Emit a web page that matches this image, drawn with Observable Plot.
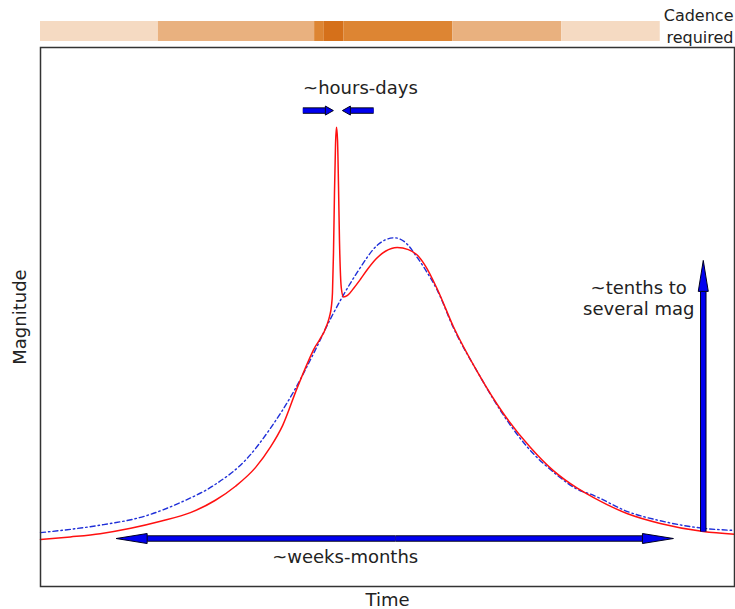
<!DOCTYPE html>
<html><head><meta charset="utf-8">
<script src="https://cdn.jsdelivr.net/npm/d3@7"></script>
<script src="https://cdn.jsdelivr.net/npm/@observablehq/plot@0.6"></script>
<style>
body{margin:0;background:#fff;font-family:"DejaVu Sans",sans-serif}
#chart svg{display:block}
</style>
</head><body><div id="chart"></div>
<script>
// ---- Cadence bar (time units 0..100) ----
const cadenceStart = [0, 17.0, 39.5, 40.9, 43.7, 59.4, 75.1];
const cadenceEnd   = [17.0, 39.5, 40.9, 43.7, 59.4, 75.1, 89.3];
const cadenceLevel = ["low", "medium", "high", "highest", "high", "medium", "low"];
const cadenceColors = {low: "#f5dac2", medium: "#e9b17f", high: "#dd8533", highest: "#d5701a"};
const cadenceLabel = "Cadence\nrequired";

// ---- Light curves (time 0..100, brightness 0..100) ----
const redTime = [0, 4.3, 8.6, 13.0, 17.3, 21.6, 25.2, 28.1, 31.0, 33.1, 34.9, 37.0, 39.3, 41.35, 41.65, 41.93, 42.07, 42.22, 42.36, 42.51, 42.65, 42.8, 42.94, 43.08, 43.23, 43.37, 43.66, 44.24, 45.1, 46.1, 47.1, 48.3, 49.7, 51.4, 53.0, 54.2, 55.5, 57.2, 59.5, 63.1, 66.7, 70.6, 73.9, 77.4, 79.7, 84.6, 89.3, 95.5, 100];
const redMag  = [8.7, 9.2, 9.8, 10.8, 12.1, 13.7, 16.0, 18.6, 22.1, 25.8, 29.9, 36.9, 43.8, 48.8, 50.1, 52.1, 54.5, 62.0, 73.0, 82.0, 85.2, 82.8, 74.4, 64.2, 57.7, 55.1, 53.7, 54.0, 55.3, 57.0, 58.8, 60.7, 62.2, 62.9, 62.5, 61.6, 59.4, 55.1, 48.2, 39.5, 32.1, 25.8, 21.5, 18.2, 16.5, 13.5, 11.7, 10.2, 9.7];

const blueTime = [0, 4.3, 8.2, 15.4, 20.2, 24.9, 29.8, 33.1, 36.5, 39.3, 41.8, 43.7, 45.7, 48.6, 51.0, 52.6, 54.3, 55.5, 57.2, 59.5, 63.1, 66.3, 70.2, 74.5, 77.1, 79.7, 84.6, 89.3, 95.5, 100];
const blueMag  = [10.0, 10.6, 11.3, 13.2, 15.6, 18.7, 23.8, 29.3, 36.2, 43.1, 49.7, 54.2, 58.4, 63.4, 64.7, 63.8, 61.0, 58.7, 54.9, 48.0, 39.5, 32.6, 25.8, 20.6, 18.2, 16.9, 13.9, 12.2, 10.8, 10.4];

// ---- Annotations ----
const noteText = ["~hours-days", "~weeks-months", "~tenths to\nseveral mag"];
const noteTime = [46.1, 43.9, 86.2];
const noteMag  = [92.6, 5.6, 53.5];

// arrows: from (x1,y1) to tip (x2,y2)
const arrowX1 = [37.8, 48.0, 51.15, 51.15, 95.5];
const arrowY1 = [88.3, 88.3, 8.9, 8.9, 10.2];
const arrowX2 = [42.2, 43.5, 10.9, 91.2, 95.5];
const arrowY2 = [88.3, 88.3, 8.9, 8.9, 60.5];
const arrowKind = ["small", "small", "big", "big", "big"];

// ---- layout / style ----
const W = 735, mL = 40, mR = 1;
const mainH = 563, mT = 1, mB = 23;
const pxPerX = (W - mL - mR) / 100;
const pxPerY = (mainH - mT - mB) / 100;
const headStyle = {small: {len: 8, half: 4.5, shaft: 4.5}, big: {len: 31, half: 5, shaft: 4.5}};
const BLUE = "#0000f0", EDGE = "#000020", FONT = "DejaVu Sans";

// ---- Cadence plot ----
const idx = cadenceStart.map((_, i) => i);
const cadencePlot = Plot.plot({
  width: W, height: 46, marginLeft: mL, marginRight: mR, marginTop: 21, marginBottom: 5,
  x: {domain: [0, 100], axis: null},
  color: {type: "identity"},
  style: {overflow: "visible", background: "transparent"},
  marks: [
    Plot.rect(idx, {x1: i => cadenceStart[i], x2: i => cadenceEnd[i], fill: i => cadenceColors[cadenceLevel[i]]}),
    Plot.text([cadenceLabel], {frameAnchor: "right", textAnchor: "end", dx: -1, dy: -7, fontSize: 16, lineHeight: 1.375, fill: "#222", fontFamily: FONT})
  ]
});

// ---- Arrow helpers ----
const shaftMarks = [], headMarks = [];
arrowX1.forEach((x1, i) => {
  const y1 = arrowY1[i], x2 = arrowX2[i], y2 = arrowY2[i];
  const st = headStyle[arrowKind[i]];
  const dxp = (x2 - x1) * pxPerX, dyp = -(y2 - y1) * pxPerY;
  const L = Math.hypot(dxp, dyp), ux = dxp / L, uy = dyp / L;
  const bx = x2 - ux * st.len / pxPerX, by = y2 + uy * st.len / pxPerY;
  const seg = [{x1, y1, x2: bx, y2: by}];
  shaftMarks.push(Plot.link(seg, {x1: "x1", y1: "y1", x2: "x2", y2: "y2", stroke: EDGE, strokeWidth: st.shaft + 2, strokeLinecap: "butt"}));
  shaftMarks.push(Plot.link(seg, {x1: "x1", y1: "y1", x2: "x2", y2: "y2", stroke: BLUE, strokeWidth: st.shaft, strokeLinecap: "butt"}));
  const sym = {
    draw(ctx) {
      const px = -uy, py = ux;
      const cx = -ux * st.len, cy = -uy * st.len;
      ctx.moveTo(0, 0);
      ctx.lineTo(cx + px * st.half, cy + py * st.half);
      ctx.lineTo(cx - px * st.half, cy - py * st.half);
      ctx.closePath();
    }
  };
  headMarks.push(Plot.dot([{x: x2, y: y2}], {x: "x", y: "y", symbol: sym, fill: BLUE, stroke: EDGE, strokeWidth: 1}));
});

const redData = redTime.map((t, i) => ({t, m: redMag[i]}));
const blueData = blueTime.map((t, i) => ({t, m: blueMag[i]}));
const notes = noteText.map((s, i) => ({s, t: noteTime[i], m: noteMag[i]}));

const mainPlot = Plot.plot({
  width: W, height: mainH, marginLeft: mL, marginRight: mR, marginTop: mT, marginBottom: mB,
  x: {domain: [0, 100], axis: null},
  y: {domain: [0, 100], axis: null},
  style: {fontFamily: FONT, background: "transparent"},
  marks: [
    Plot.line(blueData, {x: "t", y: "m", stroke: "#1f2fd8", strokeWidth: 1.4, strokeDasharray: "5,3,1.5,3", curve: "monotone-x"}),
    Plot.line(redData, {x: "t", y: "m", stroke: "#ff1010", strokeWidth: 1.5, curve: "monotone-x"}),
    ...shaftMarks,
    ...headMarks,
    Plot.text(notes, {x: "t", y: "m", text: "s", fontSize: 18, lineHeight: 1.17, fill: "#222"}),
    Plot.text(["Time"], {frameAnchor: "bottom", dy: 19, fontSize: 18, fill: "#222"}),
    Plot.text(["Magnitude"], {frameAnchor: "left", textAnchor: "middle", dx: -20, rotate: -90, fontSize: 18, fill: "#222"}),
    Plot.frame({stroke: "#333", strokeWidth: 1.5})
  ]
});

const el = document.getElementById("chart");
el.appendChild(cadencePlot);
el.appendChild(mainPlot);
</script>
</body></html>
